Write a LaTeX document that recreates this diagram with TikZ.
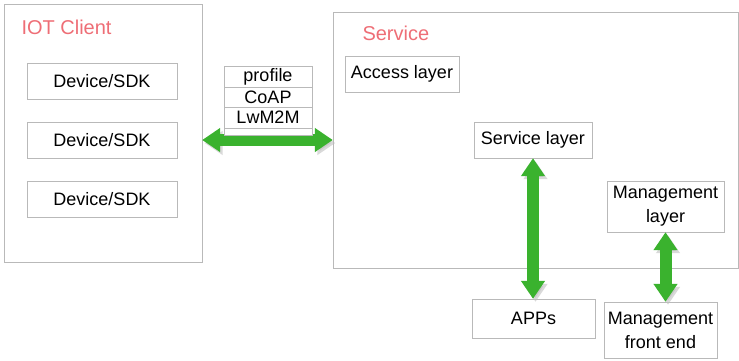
\documentclass[tikz,border=0pt]{standalone}
\usepackage{fontspec}
\setmainfont{Liberation Sans}
\usetikzlibrary{arrows.meta,positioning,calc}
\definecolor{frame}{RGB}{185,185,185}
\definecolor{rose}{RGB}{238,110,118}
\definecolor{lime}{RGB}{58,178,46}
\tikzset{
  layer/.style={draw=frame,fill=white,inner sep=0pt,align=center,
    font=\fontsize{18}{24}\selectfont},
  duplex/.style={line width=12pt,draw=lime,
    {Triangle[width=23pt,length=18pt]}-{Triangle[width=23pt,length=18pt]},
    preaction={draw=black!25,opacity=0.6,transform canvas={shift={(2.5pt,-3pt)}}}}
}

\begin{document}
\begin{tikzpicture}[x=1pt,y=-1pt]
    \useasboundingbox (0,0) rectangle (739,360);
    % outer frames
    \node[draw=frame,minimum width=198pt,minimum height=258pt] (client) at (103,133) {};
    \node[draw=frame,minimum width=405pt,minimum height=256pt] (service) at (535.5,140) {};
    \node[anchor=west,text=rose,font=\fontsize{20}{24}\selectfont] (clientlbl) at (18,27) {IOT Client};
    \node[anchor=west,text=rose,font=\fontsize{20}{24}\selectfont] (servicelbl) at (359,33) {Service};
    \foreach \i in {0,1,2}
    {
      \node[layer,minimum width=150pt,minimum height=36pt] (d\i) at (102,81+\i*59) {Device/SDK};
    }
    % link between client and service
    \coordinate (link) at (0,140);
    \draw[duplex] (client.east |- link) -- (service.west |- link);
    \foreach \t/\h [count=\i from 0] in {profile/20.5,CoAP/20.5,LwM2M/20.5,/7.5}
    {
      \node[layer,minimum width=88pt,minimum height=\h pt,anchor=north] (p\i) at (268,66+\i*20.5) {\t};
    }
    % service side
    \node[layer,minimum width=114pt,minimum height=36pt] (access) at (402,74) {Access layer};
    \node[layer,minimum width=118pt,minimum height=36pt] (slayer) at (533,140) {Service layer};
    \node[layer,minimum width=117pt,minimum height=51pt] (mlayer) at (665.5,206.5) {Management\\layer};
    \node[layer,minimum width=123pt,minimum height=39pt] (apps) at (533.5,318.5) {APPs};
    \node[layer,minimum width=113pt,minimum height=56pt] (mfront) at (660.5,330) {Management\\front end};
    \draw[duplex] (slayer.south) -- (slayer.south |- apps.north);
    \draw[duplex] (mlayer.south) -- (mlayer.south |- mfront.north);
  \end{tikzpicture}
\end{document}
